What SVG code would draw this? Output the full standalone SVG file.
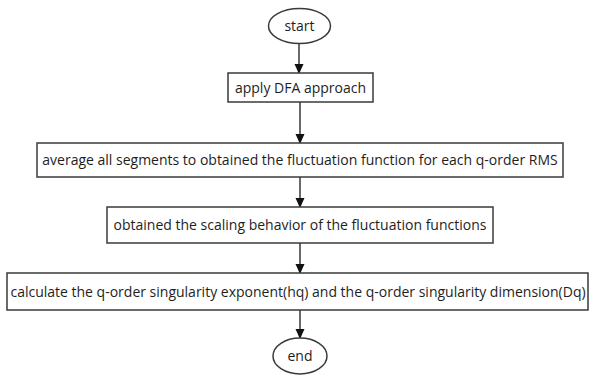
<svg xmlns="http://www.w3.org/2000/svg" width="590" height="376" viewBox="0 0 590 376">
<style>
.n{fill:#fff;stroke:#3a3a3a;stroke-width:1.5}
.t{font-family:"Open Sans","Noto Sans",sans-serif;font-size:14px;fill:#1e1e1e;text-anchor:middle;dominant-baseline:central}
.c{stroke:#1a1a1a;stroke-width:1.3;fill:none}
</style>
<defs>
<marker id="a" markerWidth="10" markerHeight="12" refX="9" refY="5" orient="auto" markerUnits="userSpaceOnUse">
<path d="M0,0.5 L10,5 L0,9.5 Z" fill="#111"/>
</marker>
</defs>
<rect width="590" height="376" fill="#fff"/>
<g id="connectors">
<line class="c" x1="299" y1="43" x2="299" y2="73" marker-end="url(#a)"/>
<line class="c" x1="300" y1="102" x2="300" y2="143" marker-end="url(#a)"/>
<line class="c" x1="300" y1="177" x2="300" y2="207" marker-end="url(#a)"/>
<line class="c" x1="300" y1="243" x2="300" y2="273" marker-end="url(#a)"/>
<line class="c" x1="300" y1="310" x2="300" y2="338" marker-end="url(#a)"/>
</g>
<g id="start">
<ellipse class="n" cx="299.5" cy="26" rx="31" ry="17.5"/>
<text class="t" x="299.5" y="25.5">start</text>
</g>
<g id="step1">
<rect class="n" x="228" y="73" width="145" height="29"/>
<text class="t" x="300.5" y="87">apply DFA approach</text>
</g>
<g id="step2">
<rect class="n" x="37" y="143" width="526" height="34"/>
<text class="t" x="300" y="159.5">average all segments to obtained the fluctuation function for each q-order RMS</text>
</g>
<g id="step3">
<rect class="n" x="107" y="207" width="386" height="36"/>
<text class="t" x="300" y="224.5">obtained the scaling behavior of the fluctuation functions</text>
</g>
<g id="step4">
<rect class="n" x="7" y="273" width="581" height="37"/>
<text class="t" x="298" y="291">calculate the q-order singularity exponent(hq) and the q-order singularity dimension(Dq)</text>
</g>
<g id="end">
<ellipse class="n" cx="300" cy="356" rx="27" ry="18"/>
<text class="t" x="300" y="355.5">end</text>
</g>
</svg>
